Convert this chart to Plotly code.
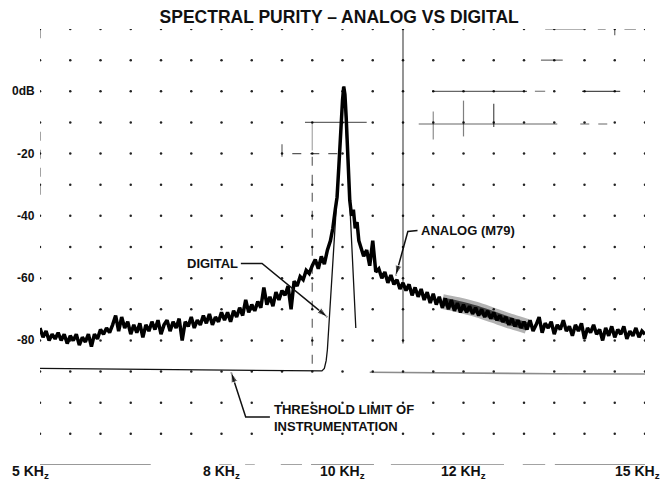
import numpy as np
import plotly.graph_objects as go

# ---------------- data ----------------
# Analog (M79) oscillator spectrum, frequency in kHz and level in dB
analog_khz = [
    5.00, 5.05, 5.10, 5.15, 5.20, 5.25, 5.30, 5.35, 5.40, 5.45, 5.50, 5.55, 5.60, 5.65, 5.70, 5.75, 5.80, 5.85, 5.90, 5.95,
    6.00, 6.05, 6.10, 6.15, 6.20, 6.25, 6.30, 6.35, 6.40, 6.45, 6.50, 6.55, 6.60, 6.65, 6.70, 6.75, 6.80, 6.85, 6.90, 6.95,
    7.00, 7.05, 7.10, 7.15, 7.20, 7.25, 7.30, 7.35, 7.40, 7.45, 7.50, 7.55, 7.60, 7.65, 7.70, 7.75, 7.80, 7.85, 7.90, 7.95,
    8.00, 8.05, 8.10, 8.15, 8.20, 8.25, 8.30, 8.35, 8.40, 8.45, 8.50, 8.55, 8.60, 8.65, 8.70, 8.75, 8.80, 8.85, 8.90, 8.95,
    9.00, 9.05, 9.10, 9.15, 9.20, 9.25, 9.30, 9.35, 9.40, 9.45, 9.50, 9.55, 9.60, 9.65, 9.70, 9.75, 9.80, 9.84, 9.88, 9.91,
    9.94, 9.97, 10.00, 10.02, 10.04, 10.06, 10.08, 10.10, 10.12, 10.15, 10.18, 10.21, 10.24, 10.27,
    10.30, 10.35, 10.40, 10.45, 10.50, 10.55, 10.60, 10.65, 10.70, 10.75, 10.80, 10.85, 10.90, 10.95,
    11.00, 11.05, 11.10, 11.15, 11.20, 11.25, 11.30, 11.35, 11.40, 11.45, 11.50, 11.55, 11.60, 11.65, 11.70, 11.75, 11.80, 11.85, 11.90, 11.95,
    12.00, 12.05, 12.10, 12.15, 12.20, 12.25, 12.30, 12.35, 12.40, 12.45, 12.50, 12.55, 12.60, 12.65, 12.70, 12.75, 12.80, 12.85, 12.90, 12.95,
    13.00, 13.05, 13.10, 13.15, 13.20, 13.25, 13.30, 13.35, 13.40, 13.45, 13.50, 13.55, 13.60, 13.65, 13.70, 13.75, 13.80, 13.85, 13.90, 13.95,
    14.00, 14.05, 14.10, 14.15, 14.20, 14.25, 14.30, 14.35, 14.40, 14.45, 14.50, 14.55, 14.60, 14.65, 14.70, 14.75, 14.80, 14.85, 14.90, 14.95,
    15.00,
]
analog_db = [
    -76.0, -79.0, -77.0, -80.0, -78.0, -79.5, -77.5, -80.0, -78.0, -81.0, -78.5, -80.0, -78.0, -81.5, -79.0, -80.5, -78.0, -82.0, -78.0, -79.5,
    -76.5, -78.0, -76.0, -77.5, -75.0, -72.0, -77.0, -72.5, -76.0, -74.0, -78.0, -75.0, -77.5, -74.5, -79.0, -75.0, -77.0, -74.0, -76.5, -73.5,
    -78.0, -75.0, -73.5, -77.0, -74.0, -76.0, -73.0, -80.0, -74.0, -75.5, -72.5, -76.0, -73.5, -75.0, -72.0, -74.5, -71.5, -75.0, -72.5, -74.0,
    -71.0, -73.5, -71.0, -74.0, -70.5, -72.5, -69.5, -72.0, -67.0, -71.0, -68.5, -70.5, -67.5, -69.5, -63.0, -68.5, -66.0, -69.0, -64.5, -67.0,
    -64.0, -65.5, -62.5, -70.0, -61.0, -62.5, -59.5, -60.5, -57.5, -58.5, -56.0, -54.0, -57.0, -53.0, -55.5, -51.0, -48.0, -44.0, -38.0, -34.0,
    -24.0, -12.0, -3.0, 1.5, -1.0, -8.0, -18.0, -28.0, -35.0, -40.0, -38.0, -44.0, -42.0, -48.0,
    -50.0, -53.0, -51.0, -56.0, -48.0, -58.0, -57.0, -60.0, -58.0, -61.5, -59.0, -62.0, -60.5, -63.5,
    -61.5, -64.0, -62.0, -65.5, -63.0, -66.0, -63.5, -67.0, -64.5, -68.0, -65.0, -68.5, -66.0, -69.5, -66.5, -70.0, -67.0, -70.5, -68.0, -71.0,
    -68.5, -71.0, -69.0, -71.5, -69.5, -72.0, -70.0, -72.5, -70.5, -73.0, -71.0, -73.5, -72.0, -74.0, -72.5, -75.0, -73.0, -75.5, -73.5, -76.0,
    -74.0, -76.5, -73.5, -77.0, -75.0, -72.5, -77.5, -74.5, -76.0, -74.0, -78.0, -75.0, -76.5, -73.5, -77.0, -75.5, -78.5, -75.0, -77.0, -74.5,
    -79.5, -76.0, -77.5, -75.0, -78.0, -76.5, -80.0, -76.0, -78.5, -75.5, -79.0, -76.5, -78.0, -75.5, -79.5, -77.0, -78.5, -76.0, -79.0, -77.0,
    -78.0,
]

# Smeared part of the analog trace between 11.6 and 13.1 kHz
smear_khz = [11.65, 11.90, 12.20, 12.50, 12.80, 13.05]
smear_db = [-67.5, -68.5, -70.0, -72.0, -74.0, -75.5]

# Digital oscillator spectrum (rides on the instrument floor below 9.7 kHz)
digital_khz = [5.00, 6.00, 7.00, 8.00, 9.00, 9.50, 9.66, 9.70, 9.73, 9.75, 9.77, 9.79, 9.82, 9.86, 9.90, 9.94, 9.97, 10.00, 10.02,
               10.04, 10.06, 10.09, 10.12, 10.15, 10.18, 10.22]
digital_db = [-89.0, -89.2, -89.4, -89.6, -89.8, -89.8, -89.8, -89.0, -86.5, -83.0, -77.0, -72.0, -60.0, -48.0, -38.0, -24.0, -12.0, -3.0, 1.5,
              -4.0, -12.0, -26.0, -38.0, -50.0, -62.0, -76.0]

# Instrument threshold above the carrier
floor_khz = [10.45, 11.50, 12.20, 13.50, 15.00]
floor_db = [-90.2, -90.4, -90.6, -90.7, -90.8]

# Axis labels
x_tick_khz = [5, 8, 10, 12, 15]
x_tick_text = ["5 KH<sub>z</sub>", "8 KH<sub>z</sub>", "10 KH<sub>z</sub>", "12 KH<sub>z</sub>", "15 KH<sub>z</sub>"]
y_tick_db = [0, -20, -40, -60, -80]
y_tick_text = ["0dB", "-20", "-40", "-60", "-80"]

# Callout labels and their leader lines (bend points, then the arrow tip)
callouts = [
    ("DIGITAL", 8.30, -55.3, "right", [(8.32, -55.3), (8.67, -55.3), (9.75, -72.5)]),
    ("ANALOG (M79)", 11.27, -44.7, "left", [(11.24, -44.7), (11.08, -45.0), (10.88, -59.2)]),
    ("THRESHOLD LIMIT OF<br>INSTRUMENTATION", 8.83, -105.0, "left", [(8.80, -104.6), (8.40, -104.6), (8.16, -90.2)]),
]

# Reticle strokes of the analyser graticule: (kHz0, dB0, kHz1, dB1, dash, grey)
reticle = [
    (11.00, 20, 11.00, -81, "solid", 0.7),
    (9.50, -10, 9.50, -19, "solid", 0.35),
    (9.50, -21, 9.50, -90, "dash", 0.6),
    (9.38, -10, 10.40, -10, "solid", 0.6),
    (9.17, -20, 10.09, -20, "dash", 0.65),
    (9.00, -17, 9.00, -21, "solid", 0.6),
    (11.48, 0, 13.05, 0, "solid", 0.6),
    (13.18, 0, 13.35, 0, "solid", 0.5),
    (13.96, 0, 14.59, 0, "solid", 0.7),
    (11.26, -10.5, 13.55, -10.5, "solid", 0.6),
    (13.93, -10.5, 14.39, -10.5, "dash", 0.6),
    (11.50, -6.5, 11.50, -15.5, "solid", 0.45),
    (12.00, -3.0, 12.00, -14.5, "solid", 0.5),
    (12.50, -4.0, 12.50, -11.5, "solid", 0.7),
    (13.35, 20, 13.98, 20, "solid", 0.6),
    (14.22, 20, 14.35, 20, "solid", 0.6),
    (14.50, 21, 14.50, 18, "solid", 0.6),
    (14.66, 20, 14.85, 20, "solid", 0.6),
    (13.28, 10, 13.64, 10, "solid", 0.6),
    (5.00, 21, 5.00, 17, "solid", 0.6),
    (5.80, 21, 6.00, 21, "solid", 0.6),
    (6.75, 21, 7.05, 21, "solid", 0.8),
    (5.00, -13, 5.00, -34, "dash", 0.6),
    (5.00, -120, 6.83, -120, "solid", 0.8),
    (7.96, -120, 8.17, -120, "solid", 0.5),
    (8.39, -120, 8.55, -120, "solid", 0.5),
    (8.98, -120, 9.33, -120, "solid", 0.6),
    (9.48, -120, 10.52, -120, "solid", 0.8),
    (10.80, -120, 12.67, -120, "solid", 0.7),
    (12.98, -120, 13.35, -120, "solid", 0.6),
    (13.51, -120, 15.03, -120, "solid", 0.8),
]

FONT = "Liberation Sans Narrow, Liberation Sans, Arial, sans-serif"
INK = "#111"

fig = go.Figure()

# graticule dots every 0.5 kHz and 10 dB
gx, gy = np.meshgrid(np.arange(5.0, 15.01, 0.5), np.arange(20, -111, -10))
fig.add_trace(go.Scatter(x=gx.ravel(), y=gy.ravel(), mode="markers",
                         marker=dict(size=2.5, color="#222"), hoverinfo="skip", showlegend=False))

for x0, y0, x1, y1, dash, a in reticle:
    fig.add_shape(type="line", x0=x0, y0=y0, x1=x1, y1=y1, xref="x", yref="y",
                  line=dict(color=f"rgba(0,0,0,{a})", width=1.2, dash=dash))

# smeared stretch of the analog trace (soft halo + darker core)
fig.add_trace(go.Scatter(x=smear_khz, y=smear_db, mode="lines",
                         line=dict(color="rgba(0,0,0,0.3)", width=15, shape="spline"),
                         hoverinfo="skip", showlegend=False))
fig.add_trace(go.Scatter(x=smear_khz, y=smear_db, mode="lines",
                         line=dict(color="rgba(0,0,0,0.65)", width=8, shape="spline"),
                         hoverinfo="skip", showlegend=False))

# threshold continuation to the right of the carrier
fig.add_trace(go.Scatter(x=floor_khz, y=floor_db, mode="lines", line=dict(color="rgba(0,0,0,0.45)", width=1.6),
                         showlegend=False, name="threshold"))

# digital trace (thin)
fig.add_trace(go.Scatter(x=digital_khz, y=digital_db, mode="lines", line=dict(color=INK, width=1.3),
                         showlegend=False, name="DIGITAL"))

# analog trace (heavy, noisy)
fig.add_trace(go.Scatter(x=analog_khz, y=analog_db, mode="lines", line=dict(color="#000", width=3.5),
                         showlegend=False, name="ANALOG (M79)"))

annotations = []
label_font = dict(family=FONT, size=13, color=INK)
for text, tx, ty, anchor, path in callouts:
    xs = [p[0] for p in path]
    ys = [p[1] for p in path]
    sizes = [0] * (len(path) - 1) + [11]
    fig.add_trace(go.Scatter(x=xs, y=ys, mode="lines+markers", line=dict(color=INK, width=1.5),
                             marker=dict(symbol="arrow", angleref="previous", size=sizes, color=INK),
                             hoverinfo="skip", showlegend=False))
    annotations.append(dict(text=f"<b>{text}</b>", x=tx, y=ty, xref="x", yref="y", xanchor=anchor,
                            yanchor="middle", align="left", showarrow=False, font=label_font))

# frequency labels below the baseline
for k, t in zip(x_tick_khz, x_tick_text):
    xs = {5: -10, 15: -8}.get(k, 0)
    annotations.append(dict(text=f"<b>{t}</b>", x=k, y=-120, xref="x", yref="y", yanchor="bottom", xanchor="center",
                            xshift=xs, yshift=-18, showarrow=False, font=dict(family=FONT, size=14, color=INK)))
# level labels
for d, t in zip(y_tick_db, y_tick_text):
    annotations.append(dict(text=f"<b>{t}</b>", x=5, y=d, xref="x", yref="y", xanchor="right", yanchor="middle",
                            xshift=-3, showarrow=False, font=dict(family=FONT, size=12, color=INK)))

fig.update_layout(
    width=665, height=483,
    margin=dict(l=40, r=20, t=29, b=18),
    paper_bgcolor="white", plot_bgcolor="white",
    xaxis=dict(range=[5, 15], visible=False, fixedrange=True),
    yaxis=dict(range=[-120, 20], visible=False, fixedrange=True),
    showlegend=False,
    title=dict(text="<b>SPECTRAL PURITY – ANALOG VS DIGITAL</b>", x=0.51, xanchor="center", y=0.965, yanchor="middle",
               font=dict(family=FONT, size=17.5, color=INK)),
    annotations=annotations,
)

fig.write_html("out.html")
